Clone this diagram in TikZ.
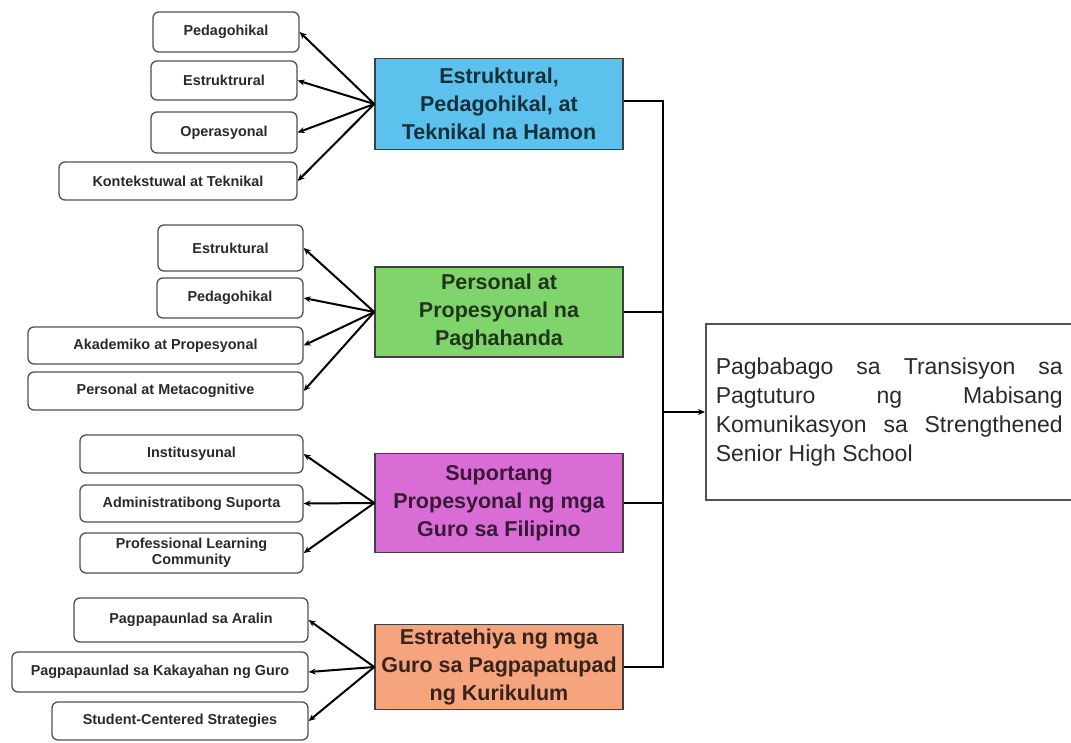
\documentclass[tikz,border=0pt]{standalone}
\usepackage{fontspec}
\setmainfont{Liberation Sans}
\usetikzlibrary{arrows.meta, positioning, calc}
\definecolor{hamonblue}{HTML}{5CC1EC}
\definecolor{handagreen}{HTML}{80D46C}
\definecolor{suportapink}{HTML}{DA6CD6}
\definecolor{stratorange}{HTML}{F5A47E}
\definecolor{boxline}{HTML}{505050}
\definecolor{subtext}{HTML}{2A2A2A}

\begin{document}
\begin{tikzpicture}[x=1pt, y=1pt,
    main/.style={rectangle, draw=black!75, line width=1.5pt, fill=#1, minimum width=248pt, align=center, font=\fontsize{21.5}{28}\selectfont\bfseries, inner sep=2pt},
    sub/.style={rectangle, rounded corners=6pt, draw=boxline, line width=1.3pt, fill=white, align=center, font=\fontsize{14.4}{15.5}\selectfont\bfseries, text=subtext, inner sep=2pt},
    outbox/.style={rectangle, draw=boxline, line width=1.6pt, fill=white, text width=347pt, minimum height=176pt, inner xsep=10pt, align=justify, font=\fontsize{23}{29}\selectfont, text=subtext},
    arr/.style={-{Stealth[length=7pt, width=6pt]}, line width=2pt},
    bus/.style={line width=2.4pt},
]
\useasboundingbox (0,0) rectangle (1071,-742);

% Main boxes
\node[main=hamonblue, text=hamonblue!25!black, minimum height=91pt] (m1) at (499,-104) {Estruktural,\\Pedagohikal, at\\Teknikal na Hamon};
\node[main=handagreen, text=handagreen!25!black, minimum height=90pt] (m2) at (499,-312) {Personal at\\Propesyonal na\\Paghahanda};
\node[main=suportapink, text=suportapink!25!black, minimum height=99pt] (m3) at (499,-503) {Suportang\\Propesyonal ng mga\\Guro sa Filipino};
\node[main=stratorange, text=stratorange!22!black, minimum height=85pt] (m4) at (499,-667) {Estratehiya ng mga\\Guro sa Pagpapatupad\\ng Kurikulum};

% Hamon
\foreach \n/\x/\y/\w/\h/\t in {1/226/32/146/40/Pedagohikal, 2/224/80.5/146/39/Estruktrural, 3/224/132.5/146/41/Operasyonal, 4/178/181/238/38/Kontekstuwal at Teknikal} {
    \node[sub, minimum width=\w pt, minimum height=\h pt] (a\n) at (\x,-\y) {\t};
    \draw[arr] (m1.west) -- (a\n.east);
}

% Paghahanda
\foreach \n/\x/\y/\w/\h/\t in {1/230.5/248/145/46/Estruktural, 2/230/298/146/40/Pedagohikal, 3/165.5/345.5/275/37/Akademiko at Propesyonal, 4/165.5/391/275/38/Personal at Metacognitive} {
    \node[sub, minimum width=\w pt, minimum height=\h pt] (b\n) at (\x,-\y) {\t};
    \draw[arr] (m2.west) -- (b\n.east);
}

% Suporta
\foreach \n/\x/\y/\w/\h/\t in {1/191.5/454/223/38/Institusyunal, 2/191.5/503.5/223/37/Administratibong Suporta, 3/191.5/553/223/40/{Professional Learning\\Community}} {
    \node[sub, minimum width=\w pt, minimum height=\h pt] (c\n) at (\x,-\y) {\t};
    \draw[arr] (m3.west) -- (c\n.east);
}

% Estratehiya
\foreach \n/\x/\y/\w/\h/\t in {1/191/620/234/44/Pagpapaunlad sa Aralin, 2/160/672/296/40/Pagpapaunlad sa Kakayahan ng Guro, 3/180/721/256/38/Student-Centered Strategies} {
    \node[sub, minimum width=\w pt, minimum height=\h pt] (d\n) at (\x,-\y) {\t};
    \draw[arr] (m4.west) -- (d\n.east);
}

% Result
\node[outbox, anchor=west] (out) at (705,-412) {\hyphenpenalty=10000 Pagbabago sa Transisyon sa\linebreak Pagtuturo ng Mabisang\linebreak Komunikasyon sa Strengthened\linebreak Senior High School};

\coordinate (bt) at ($(m1.east)+(39,3)$);
\draw[bus] ($(m1.east)+(0,3)$) -- (bt) |- (m4.east);
\draw[bus] (m2.east) -- (m2.east -| bt);
\draw[bus] (m3.east) -- (m3.east -| bt);
\draw[arr] (bt |- out.west) -- (out.west);

\end{tikzpicture}
\end{document}
